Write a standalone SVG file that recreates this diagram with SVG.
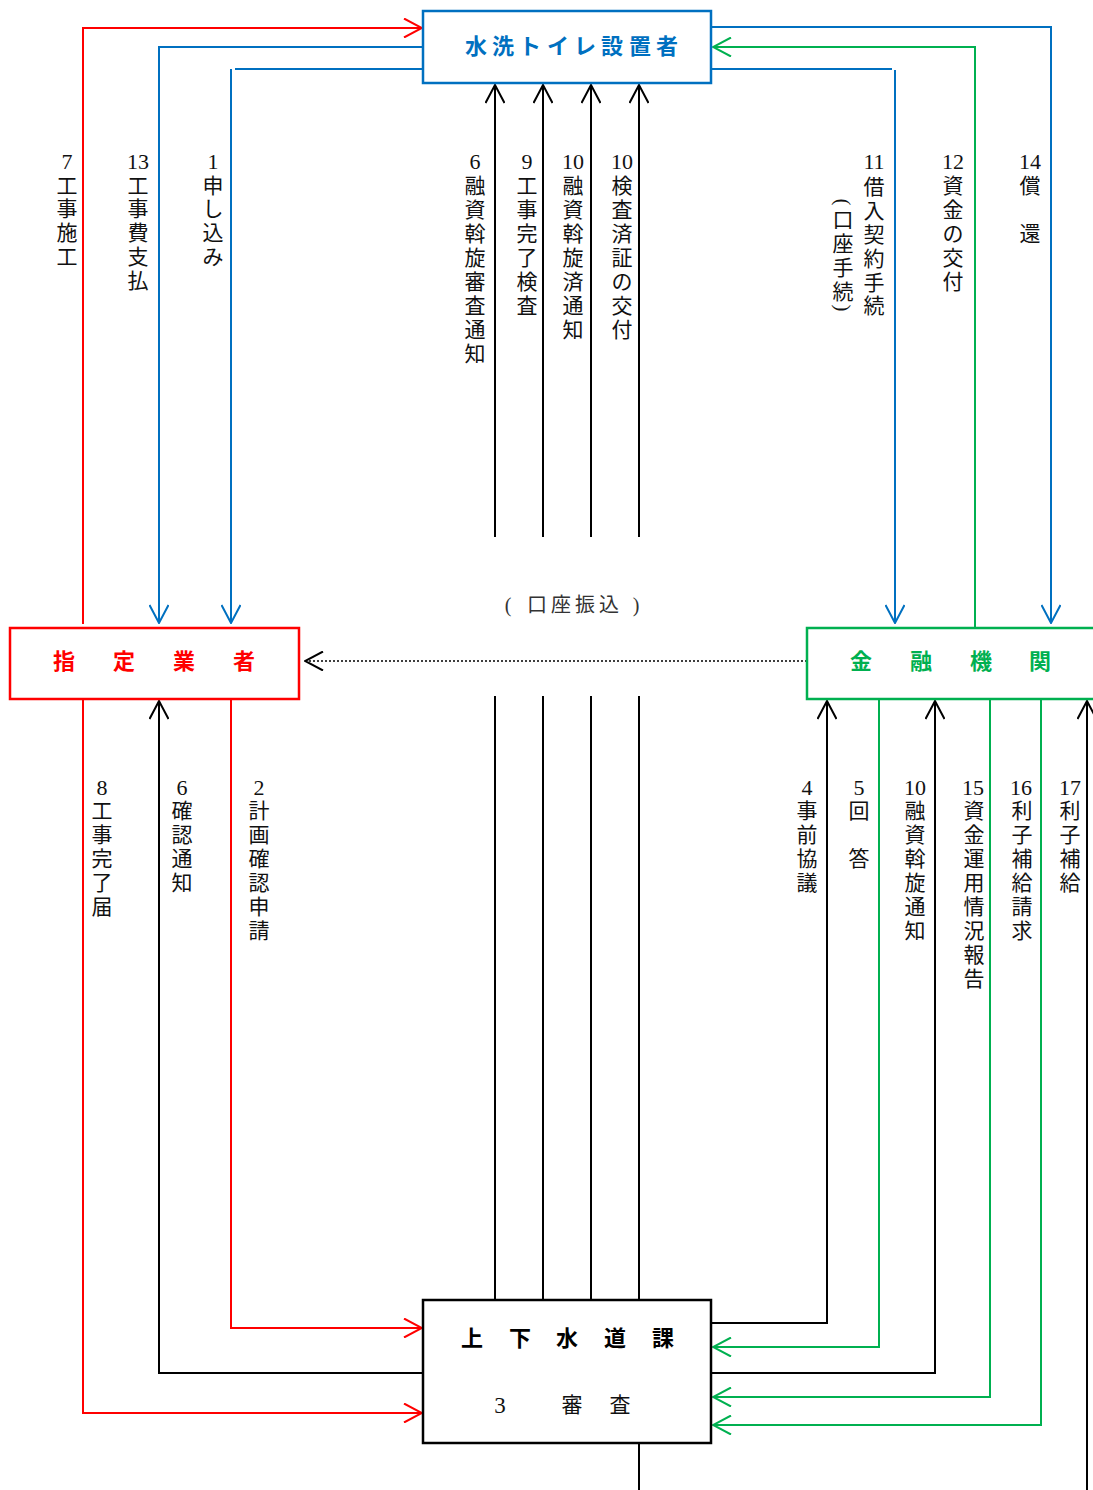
<svg xmlns="http://www.w3.org/2000/svg" width="1093" height="1490" viewBox="0 0 1093 1490">
<style>
.lbl{font-family:"Liberation Serif","Noto Sans CJK JP",serif;font-size:21px;fill:#111;text-anchor:middle;dominant-baseline:central}
.num{font-family:"Liberation Serif","Noto Sans CJK JP",serif;font-size:22px;fill:#111;text-anchor:middle;dominant-baseline:central}
.ttl{font-family:"Noto Sans CJK JP",sans-serif;font-size:22px;font-weight:bold;text-anchor:middle;dominant-baseline:central}
.c{fill:none;stroke-width:2}
.r{stroke:#FF0000}.b{stroke:#0070C0}.g{stroke:#00B050}.k{stroke:#000}
</style>
<defs>
<marker id="ar" viewBox="0 0 20 20" refX="19" refY="10" markerWidth="20" markerHeight="20" markerUnits="userSpaceOnUse" orient="auto"><path d="M1,0.5 L19,10 L1,19.5" fill="none" stroke="#FF0000" stroke-width="2"/></marker>
<marker id="ab" viewBox="0 0 20 20" refX="19" refY="10" markerWidth="20" markerHeight="20" markerUnits="userSpaceOnUse" orient="auto"><path d="M1,0.5 L19,10 L1,19.5" fill="none" stroke="#0070C0" stroke-width="2"/></marker>
<marker id="ag" viewBox="0 0 20 20" refX="19" refY="10" markerWidth="20" markerHeight="20" markerUnits="userSpaceOnUse" orient="auto"><path d="M1,0.5 L19,10 L1,19.5" fill="none" stroke="#00B050" stroke-width="2"/></marker>
<marker id="ak" viewBox="0 0 20 20" refX="19" refY="10" markerWidth="20" markerHeight="20" markerUnits="userSpaceOnUse" orient="auto"><path d="M1,0.5 L19,10 L1,19.5" fill="none" stroke="#000" stroke-width="2"/></marker>
</defs>
<rect width="1093" height="1490" fill="#fff"/>

<g id="connectors">
  <path class="c r" d="M83,624 V28 H422" marker-end="url(#ar)"/>
  <path class="c r" d="M83,699 V1413 H422" marker-end="url(#ar)"/>
  <path class="c r" d="M231,699 V1328 H422" marker-end="url(#ar)"/>
  <path class="c b" d="M423,47 H159 V623" marker-end="url(#ab)"/>
  <path class="c b" d="M423,69 H235"/>
  <path class="c b" d="M231,69 V623" marker-end="url(#ab)"/>
  <path class="c b" d="M711,27 H1051 V623" marker-end="url(#ab)"/>
  <path class="c b" d="M711,69 H892"/>
  <path class="c b" d="M895,70 V623" marker-end="url(#ab)"/>
  <path class="c g" d="M975,628 V47 H713" marker-end="url(#ag)"/>
  <path class="c g" d="M879,699 V1347 H713" marker-end="url(#ag)"/>
  <path class="c g" d="M990,699 V1397 H713" marker-end="url(#ag)"/>
  <path class="c g" d="M1041,699 V1425 H713" marker-end="url(#ag)"/>
  <path class="c k" d="M495,537 V85" marker-end="url(#ak)"/>
  <path class="c k" d="M543,537 V85" marker-end="url(#ak)"/>
  <path class="c k" d="M591,537 V85" marker-end="url(#ak)"/>
  <path class="c k" d="M639,537 V85" marker-end="url(#ak)"/>
  <path class="c k" d="M495,696 V1300 M543,696 V1300 M591,696 V1300 M639,696 V1300"/>
  <path class="c k" d="M423,1373 H159 V701" marker-end="url(#ak)"/>
  <path class="c k" d="M711,1323 H827 V701" marker-end="url(#ak)"/>
  <path class="c k" d="M711,1373 H935 V701" marker-end="url(#ak)"/>
  <path class="c k" d="M1087,1490 V701" marker-end="url(#ak)"/>
  <path class="c k" d="M639,1443 V1490"/>
  <path fill="none" stroke="#000" stroke-width="1.5" stroke-dasharray="2,2" d="M807,661 H305" marker-end="url(#ak)"/>
</g>

<g id="node-setter">
  <rect x="423" y="11" width="288" height="72" fill="#fff" stroke="#0070C0" stroke-width="2.5"/>
  <text class="ttl" y="44" fill="#0070C0"><tspan x="476">水</tspan><tspan x="503">洗</tspan><tspan x="530">ト</tspan><tspan x="558">イ</tspan><tspan x="585">レ</tspan><tspan x="612">設</tspan><tspan x="640">置</tspan><tspan x="667">者</tspan></text>
</g>

<g id="node-contractor">
  <rect x="10" y="628" width="289" height="71" fill="#fff" stroke="#FF0000" stroke-width="2.5"/>
  <text class="ttl" y="659" fill="#FF0000"><tspan x="64">指</tspan><tspan x="124">定</tspan><tspan x="184">業</tspan><tspan x="244">者</tspan></text>
</g>

<g id="node-bank">
  <rect x="807" y="628" width="300" height="71" fill="#fff" stroke="#00B050" stroke-width="2.5"/>
  <text class="ttl" y="659" fill="#00B050"><tspan x="861">金</tspan><tspan x="921">融</tspan><tspan x="981">機</tspan><tspan x="1040">関</tspan></text>
</g>

<g id="node-sewer">
  <rect x="423" y="1300" width="288" height="143" fill="#fff" stroke="#000" stroke-width="2.5"/>
  <text class="ttl" y="1336" fill="#000"><tspan x="472">上</tspan><tspan x="520">下</tspan><tspan x="567">水</tspan><tspan x="615">道</tspan><tspan x="663">課</tspan></text>
  <text class="lbl" y="1405"><tspan x="500" style="font-size:23px">3</tspan><tspan x="572">審</tspan><tspan x="620">査</tspan></text>
</g>

<g id="label-transfer">
  <text class="lbl" y="605" style="font-size:20px;fill:#333"><tspan x="508">(</tspan><tspan x="537">口</tspan><tspan x="561">座</tspan><tspan x="585">振</tspan><tspan x="609">込</tspan><tspan x="636">)</tspan></text>
</g>

<g id="labels-top">
  <text class="num" x="67" y="161">7</text>
  <text class="lbl"><tspan x="67" y="186">工</tspan><tspan x="67" y="209">事</tspan><tspan x="67" y="233">施</tspan><tspan x="67" y="257">工</tspan></text>
  <text class="num" x="138" y="161">13</text>
  <text class="lbl"><tspan x="138" y="186">工</tspan><tspan x="138" y="209">事</tspan><tspan x="138" y="233">費</tspan><tspan x="138" y="257">支</tspan><tspan x="138" y="281">払</tspan></text>
  <text class="num" x="213" y="161">1</text>
  <text class="lbl"><tspan x="213" y="186">申</tspan><tspan x="213" y="209">し</tspan><tspan x="213" y="233">込</tspan><tspan x="213" y="257">み</tspan></text>

  <text class="num" x="475" y="161">6</text>
  <text class="lbl"><tspan x="475" y="186">融</tspan><tspan x="475" y="210">資</tspan><tspan x="475" y="234">斡</tspan><tspan x="475" y="258">旋</tspan><tspan x="475" y="282">審</tspan><tspan x="475" y="306">査</tspan><tspan x="475" y="330">通</tspan><tspan x="475" y="354">知</tspan></text>
  <text class="num" x="527" y="161">9</text>
  <text class="lbl"><tspan x="527" y="186">工</tspan><tspan x="527" y="210">事</tspan><tspan x="527" y="234">完</tspan><tspan x="527" y="258">了</tspan><tspan x="527" y="282">検</tspan><tspan x="527" y="306">査</tspan></text>
  <text class="num" x="573" y="161">10</text>
  <text class="lbl"><tspan x="573" y="186">融</tspan><tspan x="573" y="210">資</tspan><tspan x="573" y="234">斡</tspan><tspan x="573" y="258">旋</tspan><tspan x="573" y="282">済</tspan><tspan x="573" y="306">通</tspan><tspan x="573" y="330">知</tspan></text>
  <text class="num" x="622" y="161">10</text>
  <text class="lbl"><tspan x="622" y="186">検</tspan><tspan x="622" y="210">査</tspan><tspan x="622" y="234">済</tspan><tspan x="622" y="258">証</tspan><tspan x="622" y="282">の</tspan><tspan x="622" y="306">交</tspan><tspan x="622" y="330">付</tspan></text>

  <text class="num" x="874" y="161">11</text>
  <text class="lbl"><tspan x="874" y="187">借</tspan><tspan x="874" y="211">入</tspan><tspan x="874" y="235">契</tspan><tspan x="874" y="259">約</tspan><tspan x="874" y="283">手</tspan><tspan x="874" y="306">続</tspan></text>
  <text class="lbl" transform="rotate(90 843 202)" x="843" y="202">(</text>
  <text class="lbl"><tspan x="843" y="220">口</tspan><tspan x="843" y="244">座</tspan><tspan x="843" y="268">手</tspan><tspan x="843" y="292">続</tspan></text>
  <text class="lbl" transform="rotate(90 843 308)" x="843" y="308">)</text>
  <text class="num" x="953" y="161">12</text>
  <text class="lbl"><tspan x="953" y="186">資</tspan><tspan x="953" y="210">金</tspan><tspan x="953" y="234">の</tspan><tspan x="953" y="258">交</tspan><tspan x="953" y="282">付</tspan></text>
  <text class="num" x="1030" y="161">14</text>
  <text class="lbl"><tspan x="1030" y="186">償</tspan><tspan x="1030" y="234">還</tspan></text>
</g>

<g id="labels-bottom">
  <text class="num" x="102" y="787">8</text>
  <text class="lbl"><tspan x="102" y="811">工</tspan><tspan x="102" y="835">事</tspan><tspan x="102" y="859">完</tspan><tspan x="102" y="883">了</tspan><tspan x="102" y="907">届</tspan></text>
  <text class="num" x="182" y="787">6</text>
  <text class="lbl"><tspan x="182" y="811">確</tspan><tspan x="182" y="835">認</tspan><tspan x="182" y="859">通</tspan><tspan x="182" y="883">知</tspan></text>
  <text class="num" x="259" y="787">2</text>
  <text class="lbl"><tspan x="259" y="811">計</tspan><tspan x="259" y="835">画</tspan><tspan x="259" y="859">確</tspan><tspan x="259" y="883">認</tspan><tspan x="259" y="907">申</tspan><tspan x="259" y="931">請</tspan></text>

  <text class="num" x="807" y="787">4</text>
  <text class="lbl"><tspan x="807" y="811">事</tspan><tspan x="807" y="835">前</tspan><tspan x="807" y="859">協</tspan><tspan x="807" y="883">議</tspan></text>
  <text class="num" x="859" y="787">5</text>
  <text class="lbl"><tspan x="859" y="811">回</tspan><tspan x="859" y="859">答</tspan></text>
  <text class="num" x="915" y="787">10</text>
  <text class="lbl"><tspan x="915" y="811">融</tspan><tspan x="915" y="835">資</tspan><tspan x="915" y="859">斡</tspan><tspan x="915" y="883">旋</tspan><tspan x="915" y="907">通</tspan><tspan x="915" y="931">知</tspan></text>
  <text class="num" x="973" y="787">15</text>
  <text class="lbl"><tspan x="974" y="811">資</tspan><tspan x="974" y="835">金</tspan><tspan x="974" y="859">運</tspan><tspan x="974" y="883">用</tspan><tspan x="974" y="907">情</tspan><tspan x="974" y="931">況</tspan><tspan x="974" y="955">報</tspan><tspan x="974" y="979">告</tspan></text>
  <text class="num" x="1021" y="787">16</text>
  <text class="lbl"><tspan x="1022" y="811">利</tspan><tspan x="1022" y="835">子</tspan><tspan x="1022" y="859">補</tspan><tspan x="1022" y="883">給</tspan><tspan x="1022" y="907">請</tspan><tspan x="1022" y="931">求</tspan></text>
  <text class="num" x="1070" y="787">17</text>
  <text class="lbl"><tspan x="1070" y="811">利</tspan><tspan x="1070" y="835">子</tspan><tspan x="1070" y="859">補</tspan><tspan x="1070" y="883">給</tspan></text>
</g>
</svg>
